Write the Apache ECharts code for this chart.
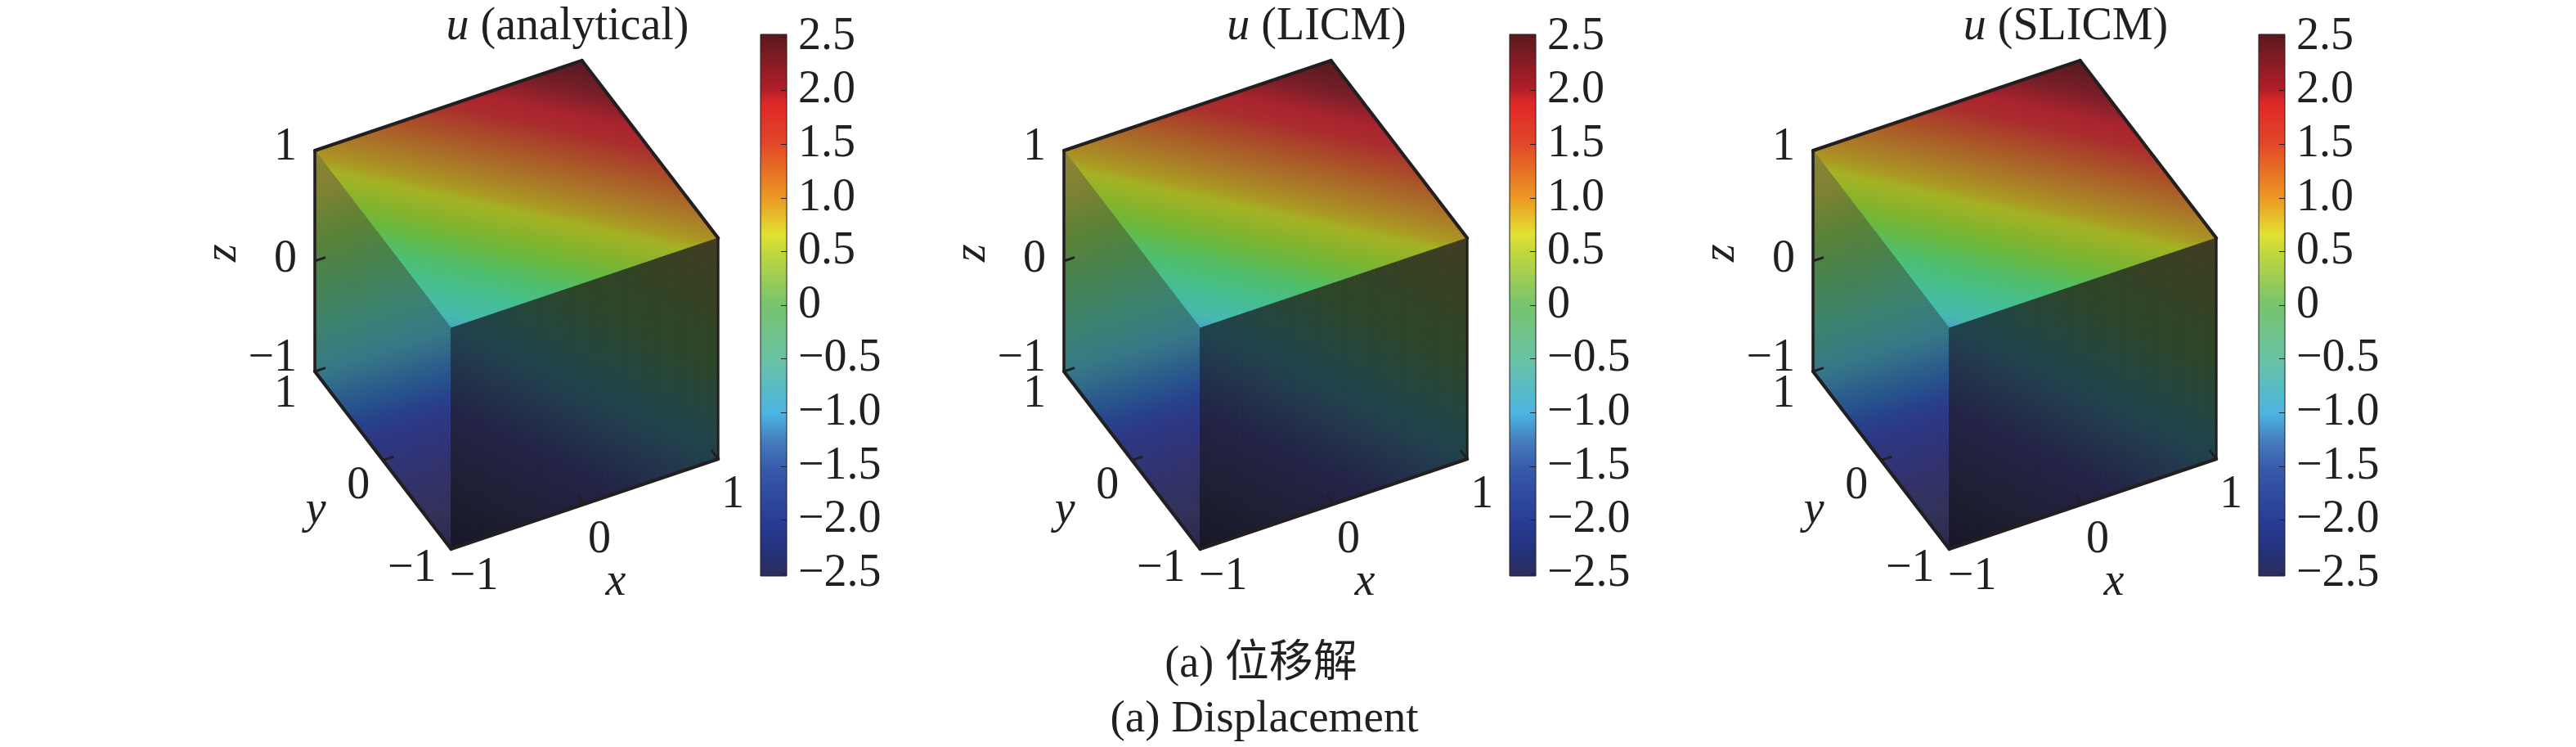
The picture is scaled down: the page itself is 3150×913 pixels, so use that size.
<!DOCTYPE html>
<html><head><meta charset="utf-8">
<style>html,body{margin:0;padding:0;background:#fff}#c{width:3150px;height:913px}</style>
<script src="https://cdn.jsdelivr.net/npm/echarts@6/dist/echarts.min.js"></script>
</head><body><div id="c"></div>
<script>
// ---------- data ----------
const panelTitles = ['analytical', 'LICM', 'SLICM'];
const colorbarTicks = [-2.5,-2,-1.5,-1,-0.5,0,0.5,1,1.5,2,2.5];
const colormapValues = [-2.5,-2.25,-2,-1.5,-1.25,-1,-0.5,0,0.5,0.65,1,1.5,1.85,2,2.5];
const colormapColors = [[45,45,90],[35,50,125],[40,60,150],[55,90,170],[70,125,190],[75,180,225],[105,195,165],[120,195,110],[195,215,60],[225,225,50],[235,150,35],[225,70,40],[225,40,40],[175,30,40],[90,25,30]];
// colours as lit on each face of the cube, against u
const topLitValues = [-0.85,-0.7,-0.4,-0.1,0.15,0.35,0.65,0.8,1.05,1.4,1.7,1.9,2.2,2.5];
const topLitColors = [[70,165,190],[70,185,175],[70,190,145],[80,190,105],[105,185,65],[130,180,45],[165,178,35],[170,150,35],[170,120,40],[170,80,40],[170,45,45],[170,35,45],[120,30,40],[85,25,30]];
const leftLitValues = [-2.55,-2.21,-1.87,-1.53,-1.36,-1.19,-0.85,-0.51,-0.17,0.17,0.51,0.85];
const leftLitColors = [[40,40,70],[50,50,90],[50,50,110],[45,55,130],[40,65,140],[40,85,140],[55,120,135],[60,130,110],[70,130,80],[90,130,55],[125,130,50],[140,130,50]];
const rightLitValues = [-2.55,-2.1,-1.48,-1.17,-0.85,-0.54,-0.085,0.4,0.85];
const rightLitColors = [[22,22,38],[30,30,50],[35,35,70],[35,50,75],[33,65,78],[35,70,65],[45,70,40],[55,65,35],[65,60,35]];
// top face z=1: rows y=-1..1, columns x=-1..1
const topFaceU = [
 [-0.85,-0.57,-0.28,0,0.28,0.57,0.85],
 [-0.57,-0.28,0,0.28,0.57,0.85,1.13],
 [-0.28,0,0.28,0.57,0.85,1.13,1.42],
 [0,0.28,0.57,0.85,1.13,1.42,1.7],
 [0.28,0.57,0.85,1.13,1.42,1.7,1.98],
 [0.57,0.85,1.13,1.42,1.7,1.98,2.27],
 [0.85,1.13,1.42,1.7,1.98,2.27,2.5]];
// left face x=-1: rows z=-1..1, columns y=-1..1
const leftFaceU = [
 [-2.5,-2.12,-1.7,-1.27,-0.85],
 [-2.12,-1.7,-1.27,-0.85,-0.42],
 [-1.7,-1.27,-0.85,-0.42,0],
 [-1.27,-0.85,-0.42,0,0.42],
 [-0.85,-0.42,0,0.42,0.85]];
// right face y=-1: rows z=-1..1, columns x=-1..1
const rightFaceU = [
 [-2.5,-2.12,-1.7,-1.27,-0.85],
 [-2.12,-1.7,-1.27,-0.85,-0.42],
 [-1.7,-1.27,-0.85,-0.42,0],
 [-1.27,-0.85,-0.42,0,0.42],
 [-0.85,-0.42,0,0.42,0.85]];
const xTicks = [-1,0,1], yTicks = [-1,0,1], zTicks = [-1,0,1];
// projection of the cube onto the plot plane
const viewX = [163.3,-83.3,0], viewY = [55,108.5,135];

// ---------- helpers ----------
const FONT = '"Liberation Serif","Times New Roman",serif';
const INK = '#231f20';
const FS = 56;
const project = (x,y,z)=>[viewX[0]*x+viewX[1]*y+viewX[2]*z, viewY[0]*x+viewY[1]*y+viewY[2]*z];
function uColor(u, vals, cols){
  let k=0; while(k<vals.length-2 && u>vals[k+1]) k++;
  const t=Math.max(0,Math.min(1,(u-vals[k])/(vals[k+1]-vals[k])));
  const a=cols[k],b=cols[k+1];
  return 'rgb('+[0,1,2].map(c=>Math.round(a[c]+(b[c]-a[c])*t)).join(',')+')';
}
const faces = [
 {grid:topFaceU,  vals:topLitValues,  cols:topLitColors,  sub:10, to3:(a,b)=>[a,b,1]},   // a across columns, b across rows
 {grid:leftFaceU, vals:leftLitValues, cols:leftLitColors, sub:14, to3:(a,b)=>[-1,a,b]},
 {grid:rightFaceU,vals:rightLitValues,cols:rightLitColors,sub:14, to3:(a,b)=>[a,-1,b]}];
const cells=[];
faces.forEach((f,fi)=>{const n=f.grid.length-1;for(let r=0;r<n;r++)for(let c=0;c<f.grid[0].length-1;c++)cells.push([fi,r,c]);});

function renderCell(params,api){
  const f=faces[api.value(0)], r=api.value(1), c=api.value(2), SUB=f.sub;
  const g=f.grid, n=g.length-1, m=g[0].length-1, kids=[];
  const pt=(cc,rr)=>{const p=f.to3(-1+2*cc/m,-1+2*rr/n);return api.coord(project(p[0],p[1],p[2]));};
  for(let i=0;i<SUB;i++)for(let j=0;j<SUB;j++){
    const s0=i/SUB,s1=(i+1)/SUB,t0=j/SUB,t1=(j+1)/SUB,sm=(s0+s1)/2,tm=(t0+t1)/2;
    const u=(1-sm)*(1-tm)*g[r][c]+sm*(1-tm)*g[r][c+1]+(1-sm)*tm*g[r+1][c]+sm*tm*g[r+1][c+1];
    const col=uColor(u,f.vals,f.cols);
    kids.push({type:'polygon',shape:{points:[pt(c+s0,r+t0),pt(c+s1,r+t0),pt(c+s1,r+t1),pt(c+s0,r+t1)]},style:{fill:col,stroke:col,lineWidth:1}});
  }
  return {type:'group',children:kids};
}
// cube outline: pairs of corners, with line weight
const edges=[[[-1,1,1],[1,1,1],4.2],[[1,1,1],[1,-1,1],4.2],[[1,-1,1],[1,-1,-1],3],[[1,-1,-1],[-1,-1,-1],4.2],[[-1,-1,-1],[-1,1,-1],4.2],[[-1,1,-1],[-1,1,1],3.6]];
function renderEdge(params,api){
  const e=edges[api.value(0)];
  return {type:'line',shape:{x1:api.coord(project(...e[0]))[0],y1:api.coord(project(...e[0]))[1],x2:api.coord(project(...e[1]))[0],y2:api.coord(project(...e[1]))[1]},style:{stroke:INK,lineWidth:e[2],lineCap:'round'}};
}
// tick marks
const tickMarks=[];
zTicks.filter(v=>v<1).forEach(v=>tickMarks.push([-1,1,v,0.08,0]));
yTicks.filter(v=>v===0).forEach(v=>tickMarks.push([-1,v,-1,0.08,0]));
xTicks.filter(v=>v>-1).forEach(v=>tickMarks.push([v,-1,-1,0,0.1]));
function renderTick(params,api){
  const a=[api.value(0),api.value(1),api.value(2)],dx=api.value(3),dy=api.value(4);
  const p=api.coord(project(a[0],a[1],a[2])),q=api.coord(project(a[0]+dx,a[1]+dy,a[2]));
  return {type:'line',shape:{x1:p[0],y1:p[1],x2:q[0],y2:q[1]},style:{stroke:INK,lineWidth:3}};
}
// tick labels: text anchored on a tick position, nudged off it
const fmt=v=>String(v).replace('-','\u2212');
const tickLabels=[];
zTicks.forEach(v=>tickLabels.push({value:[-1,1,v],text:fmt(v),dx:-22,dy:v===1?-4:(v===0?-2:-16),align:'right'}));
yTicks.forEach(v=>tickLabels.push({value:[-1,v,-1],text:fmt(v),dx:v===1?-22:(v===0?-16:-18),dy:v===1?28:(v===0?32:24),align:'right'}));
xTicks.forEach(v=>tickLabels.push({value:[v,-1,-1],text:fmt(v),dx:v===-1?28:18,dy:v===-1?34:44,align:'center'}));
const axisNames=[
 {value:[-1,1,0],text:'z',dx:-112,dy:-10,rot:true},
 {value:[-1,0,-1],text:'y',dx:-82,dy:62},
 {value:[0,-1,-1],text:'x',dx:38,dy:96}];
function labelSeries(grid){
  return {type:'custom',coordinateSystem:'cartesian2d',xAxisIndex:grid,yAxisIndex:grid,clip:false,silent:true,animation:false,z:6,
    data:tickLabels.concat(axisNames),
    encode:{x:0,y:1},
    renderItem:(params,api)=>{
      const d=tickLabels.concat(axisNames)[params.dataIndex];
      const p=api.coord(project(d.value[0],d.value[1],d.value[2]));
      return {type:'text',x:p[0]+d.dx,y:p[1]+d.dy,rotation:d.rot?Math.PI/2:0,
        style:{text:d.text,fontFamily:FONT,fontSize:FS,fontStyle:d.align?'normal':'italic',fill:INK,align:d.align||'center',verticalAlign:'middle'}};
    }};
}

// ---------- layout ----------
const pitch=916, cubeLeft=385, cubeTop=74;
const halfW=Math.abs(viewX[0])+Math.abs(viewX[1])+Math.abs(viewX[2]);
const halfH=Math.abs(viewY[0])+Math.abs(viewY[1])+Math.abs(viewY[2]);
const grids=[],xAxes=[],yAxes=[],series=[],titles=[];
panelTitles.forEach((name,i)=>{
  const g=grids.length;
  grids.push({left:cubeLeft+i*pitch,top:cubeTop,width:2*halfW,height:2*halfH});
  xAxes.push({type:'value',gridIndex:g,min:-halfW,max:halfW,show:false});
  yAxes.push({type:'value',gridIndex:g,min:-halfH,max:halfH,show:false});
  series.push({type:'custom',coordinateSystem:'cartesian2d',xAxisIndex:g,yAxisIndex:g,clip:false,silent:true,animation:false,z:2,
    data:cells,encode:{x:1,y:2},renderItem:renderCell});
  series.push({type:'custom',coordinateSystem:'cartesian2d',xAxisIndex:g,yAxisIndex:g,clip:false,silent:true,animation:false,z:4,
    data:edges.map((e,k)=>[k]),encode:{x:0},renderItem:renderEdge});
  series.push({type:'custom',coordinateSystem:'cartesian2d',xAxisIndex:g,yAxisIndex:g,clip:false,silent:true,animation:false,z:5,
    data:tickMarks,encode:{x:0,y:1},renderItem:renderTick});
  series.push(labelSeries(g));
  // colorbar
  const b=grids.length;
  grids.push({left:930+i*pitch,top:45,width:32,height:656});
  xAxes.push({type:'category',gridIndex:b,data:['u'],show:false});
  yAxes.push({type:'value',gridIndex:b,min:-2.5,max:2.5,interval:0.5,position:'right',splitLine:{show:false},z:8,
    axisLine:{show:false},
    axisTick:{show:true,inside:true,length:7,lineStyle:{color:INK,width:1}},
    axisLabel:{show:true,margin:14,fontFamily:FONT,fontSize:FS,color:INK,
      customValues:colorbarTicks,
      formatter:v=>v===0?'0':v.toFixed(1).replace('-','\u2212')}});
  series.push({type:'custom',coordinateSystem:'cartesian2d',xAxisIndex:b,yAxisIndex:b,clip:false,silent:true,animation:false,z:3,
    data:[[0,-2.5,2.5]],encode:{x:0,y:[1,2]},
    renderItem:(params,api)=>{
      const lo=api.coord([0,-2.5]),hi=api.coord([0,2.5]),w=api.size([1,0])[0];
      const stops=colormapValues.map((v,k)=>({offset:(2.5-v)/5,color:'rgb('+colormapColors[k].join(',')+')'})).reverse();
      return {type:'rect',shape:{x:lo[0]-w/2,y:hi[1]-3,width:w,height:lo[1]-hi[1]+6},
        style:{fill:new echarts.graphic.LinearGradient(0,0,0,1,stops),stroke:INK,lineWidth:1}};
    }});
  titles.push({text:'{i|u} ('+name+')',left:689+i*pitch,top:0,textAlign:'center',
    textStyle:{rich:{i:{fontFamily:FONT,fontStyle:'italic',fontSize:56,color:INK}},fontFamily:FONT,fontSize:56,fontWeight:'normal',color:INK}});
});
titles.push({text:'(a) \u4f4d\u79fb\u89e3',left:1537,top:781,textAlign:'center',textStyle:{fontFamily:FONT+',"Noto Sans CJK SC"',fontSize:54,fontWeight:'normal',color:INK}});
titles.push({text:'(a) Displacement',left:1541,top:847,textAlign:'center',textStyle:{fontFamily:FONT,fontSize:55,fontWeight:'normal',color:INK}});

const chart=echarts.init(document.getElementById('c'),null,{renderer:'canvas'});
chart.setOption({animation:false,backgroundColor:'#fff',title:titles,grid:grids,xAxis:xAxes,yAxis:yAxes,series:series});
</script></body></html>
